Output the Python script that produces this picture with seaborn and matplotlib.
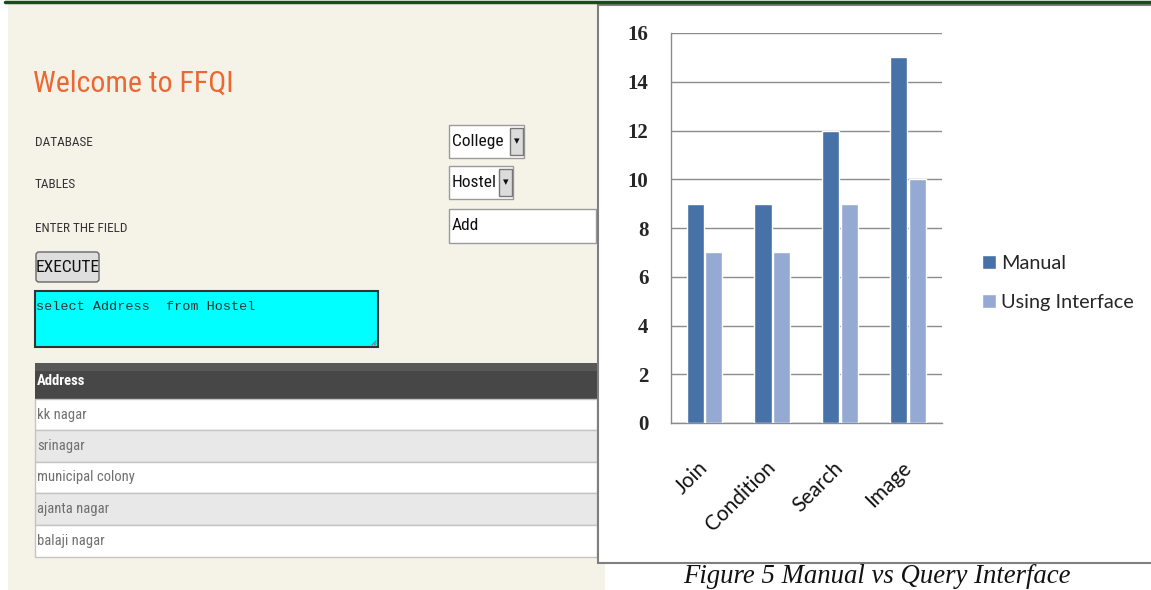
import os
import pandas as pd
import numpy as np
import matplotlib
matplotlib.use("Agg")
import matplotlib.pyplot as plt
import seaborn as sns
from matplotlib import font_manager
from matplotlib.font_manager import FontProperties
from matplotlib.patches import Rectangle, FancyBboxPatch

# --- data ---
queries = ["Join", "Condition", "Search", "Image"]
manual = [9, 9, 12, 15]
using_interface = [7, 7, 9, 10]
methods = ["Manual", "Using Interface"]
colors = ["#4672A7", "#95AAD2"]

db_options = ["College", "Hostel", "Add"]
form_labels = ["DATABASE", "TABLES", "ENTER THE FIELD"]
query_text = "select Address  from Hostel"
addresses = ["kk nagar", "srinagar", "municipal colony", "ajanta nagar", "balaji nagar"]

df = pd.DataFrame({
    "Query": queries * 2,
    "Time": manual + using_interface,
    "Method": [methods[0]] * 4 + [methods[1]] * 4,
})

# --- fonts: look for a condensed sans for the screenshot part ---
files = [f.fname for f in font_manager.fontManager.ttflist]
BAD = ("italic", "oblique", "light", "thin", "medium", "black", "semibold", "extra")


def find_font(bold):
    for key in ("liberationsansnarrow", "robotocondensed", "dejavusanscondensed",
                "opensanscondensed", "notosanscondensed"):
        for p in files:
            b = os.path.basename(p).lower().replace("-", "").replace("_", "")
            if not b.startswith(key) or any(w in b for w in BAD):
                continue
            if ("bold" in b) == bold:
                return p
    return None


reg_path, bold_path = find_font(False), find_font(True)
if reg_path:
    NSCALE = 1.0
    NARROW = FontProperties(fname=reg_path)
    NARROW_B = FontProperties(fname=bold_path) if bold_path else FontProperties(fname=reg_path, weight="bold")
else:
    NSCALE = 0.78
    NARROW = FontProperties(family="DejaVu Sans")
    NARROW_B = FontProperties(family="DejaVu Sans", weight="bold")
SERIF = "Liberation Serif"
LEGEND_FONT = "Lato"

W, H = 1151, 590
sns.set_style("white")
fig = plt.figure(figsize=(W / 100, H / 100), dpi=100)
fig.patch.set_facecolor("white")

# --- left panel: form screenshot ---
ui = fig.add_axes([0, 0, 1, 1], zorder=0)
ui.set_xlim(0, W)
ui.set_ylim(H, 0)
ui.axis("off")

ui.add_patch(Rectangle((8, 3), 597, H, facecolor="#F5F3E8", edgecolor="none"))
ui.plot([5, W], [1.5, 1.5], color="#1B4A1B", lw=2.5)

ui.text(33, 92, "Welcome to FFQI", fontproperties=NARROW, fontsize=21.5 * NSCALE,
        color="#EB6833", va="baseline")

for lab, y in zip(form_labels, [143, 184, 228]):
    ui.text(35, y, lab, fontproperties=NARROW, fontsize=9.5 * NSCALE, color="#333333", va="center")

# dropdowns / input
boxes = [(449, 125, 75, 33, True), (449, 166, 64, 33, True), (449, 209, 147, 34, False)]
for (x, y, w, h, drop), txt in zip(boxes, db_options):
    ui.add_patch(Rectangle((x, y), w, h, facecolor="white", edgecolor="#9a9a9a", lw=1))
    ui.text(x + 3, y + h / 2, txt, fontproperties=NARROW, fontsize=12.5 * NSCALE, va="center",
            color="#111111")
    if drop:
        ui.add_patch(Rectangle((x + w - 14, y + 3), 13, h - 6, facecolor="#dcdcdc",
                               edgecolor="#777777", lw=1))
        ui.text(x + w - 7.5, y + h / 2, "▾", fontsize=8, ha="center", va="center", color="#111111")

# execute button
ui.add_patch(FancyBboxPatch((36, 252), 63, 30, boxstyle="round,pad=0,rounding_size=3",
                            facecolor="#dedede", edgecolor="#666666", lw=1))
ui.text(67.5, 267, "EXECUTE", fontproperties=NARROW, fontsize=12.5 * NSCALE, ha="center",
        va="center", color="#111111")

# query textarea
ui.add_patch(Rectangle((35, 291), 343, 56, facecolor="#00FFFF", edgecolor="#333333", lw=1.5))
ui.text(36, 307, query_text, fontsize=9.7, family="Liberation Mono", va="center", color="#333333")
ui.plot([372, 376], [345, 341], color="#777777", lw=0.8)
ui.plot([374.5, 376], [345, 343.5], color="#777777", lw=0.8)

# result table
ui.add_patch(Rectangle((35, 363), 562, 36, facecolor="#474747", edgecolor="none"))
ui.add_patch(Rectangle((35, 363), 562, 8, facecolor="#585858", edgecolor="none"))
ui.text(37, 381, "Address", fontproperties=NARROW_B, fontsize=10.5 * NSCALE, color="white",
        va="center")
row_edges = [399, 430, 462, 493, 525, 557]
for i, addr in enumerate(addresses):
    y0, y1 = row_edges[i], row_edges[i + 1]
    ui.add_patch(Rectangle((35, y0), 562, y1 - y0,
                           facecolor="white" if i % 2 == 0 else "#E8E8E8",
                           edgecolor="#C4C4C4", lw=1))
    ui.text(37, (y0 + y1) / 2, addr, fontproperties=NARROW, fontsize=10.5 * NSCALE,
            color="#707070", va="center")

# chart box + caption
ui.add_patch(Rectangle((598, 5), W, 558, facecolor="white", edgecolor="#7f7f7f", lw=1.5))
ui.text(877, 583, "Figure 5 Manual vs Query Interface", fontsize=19.3, family=SERIF,
        style="italic", ha="center", va="baseline", color="#111111")

# --- right panel: bar chart ---
x0, x1, ytop, ybot = 670.5, 942, 33, 423
ax = fig.add_axes([x0 / W, (H - ybot) / H, (x1 - x0) / W, (ybot - ytop) / H], zorder=2)
ax.patch.set_alpha(0)

sns.barplot(data=df, x="Query", y="Time", hue="Method", palette=colors, saturation=1,
            width=0.55, gap=0.08, edgecolor="white", linewidth=1, ax=ax, zorder=3)

ax.set_ylim(0, 16)
ax.set_xlim(-0.5, 3.5)
ax.set_yticks(np.arange(0, 17, 2))
ax.yaxis.grid(True, color="#8c8c8c", lw=1, zorder=0)
ax.set_axisbelow(True)
ax.set_xlabel("")
ax.set_ylabel("")
for s in ["top", "right"]:
    ax.spines[s].set_visible(False)
for s in ["left", "bottom"]:
    ax.spines[s].set_color("#8c8c8c")
    ax.spines[s].set_linewidth(1)

ax.tick_params(axis="y", length=5, color="#8c8c8c", pad=11, labelsize=15)
for t in ax.get_yticklabels():
    t.set_fontfamily(SERIF)
    t.set_fontweight("bold")
ax.set_xticks(np.arange(-0.5, 4, 1), minor=True)
ax.tick_params(axis="x", which="minor", length=7, color="#8c8c8c", direction="out")
ax.tick_params(axis="x", which="major", length=0, pad=30)
ax.set_xticklabels(queries, rotation=45, ha="right", va="center", rotation_mode="anchor",
                   fontsize=15, family=LEGEND_FONT, color="#111111")

handles, labels = ax.get_legend_handles_labels()
ax.get_legend().remove()
fig.legend(handles, labels, loc="center left", bbox_to_anchor=(972 / W, (H - 283) / H),
           frameon=False, prop={"family": LEGEND_FONT, "size": 14.3},
           handlelength=0.7, handleheight=0.7, handletextpad=0.25, labelspacing=1.1,
           borderpad=0)

fig.savefig("out.png", dpi=100)
